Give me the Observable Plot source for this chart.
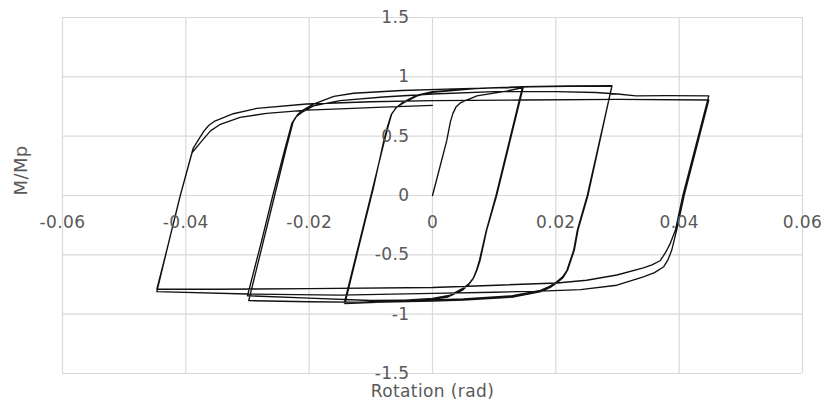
<!DOCTYPE html>
<html>
<head>
<meta charset="utf-8">
<script src="https://cdn.jsdelivr.net/npm/d3@7"></script>
<script src="https://cdn.jsdelivr.net/npm/@observablehq/plot@0.6"></script>
<style>
  html, body { margin: 0; padding: 0; background: #fff; }
  #chart text { letter-spacing: 0.4px; }
</style>
</head>
<body>
<div id="chart"></div>
<script>
// Hysteresis path (rotation in rad, normalised moment M/Mp), in loading order
const rotation = [
  0, 0.0012, 0.0023, 0.0029, 0.0033, 0.0038, 0.0045, 0.0072, 0.012, 0.0147,
  0.0104, 0.0088, 0.0077, 0.0072, 0.0067, 0.0059, 0.005, 0.0029, 0, -0.007, -0.0143,
  -0.0118, -0.0097, -0.0078, -0.0072, -0.0066, -0.0058, -0.0047, -0.0025, 0, 0.007, 0.0146,
  0.0103, 0.0087, 0.0076, 0.0071, 0.0066, 0.0058, 0.0048, 0.0025, 0, -0.007, -0.0142,
  -0.0117, -0.0096, -0.0079, -0.0073, -0.0067, -0.0059, -0.0048, -0.0025, 0, 0.008, 0.0147, 0.022, 0.0291,
  0.0252, 0.0236, 0.0230, 0.0219, 0.0212, 0.0203, 0.0191, 0.0176, 0.0132, 0.005, 0, -0.01, -0.02, -0.0298,
  -0.0274, -0.0256, -0.0238, -0.0226, -0.0219, -0.0210, -0.0193, -0.016, -0.0128, -0.005, 0.005, 0.0158, 0.022, 0.0291,
  0.0251, 0.0235, 0.0229, 0.0218, 0.0211, 0.0202, 0.019, 0.0175, 0.013, 0.005, 0, -0.01, -0.02, -0.03,
  -0.0277, -0.0259, -0.0240, -0.0228, -0.0221, -0.0212, -0.0193, -0.015, -0.008, 0, 0.01, 0.02, 0.0265, 0.03, 0.033, 0.038, 0.0448,
  0.0406, 0.0394, 0.0385, 0.0378, 0.0369, 0.0356, 0.0342, 0.0299, 0.025, 0.0202, 0.0104, 0, -0.02, -0.035, -0.0447,
  -0.0427, -0.0409, -0.0388, -0.0371, -0.0363, -0.0354, -0.0323, -0.0285, -0.0204, -0.01, 0, 0.015, 0.03, 0.0448,
  0.0408, 0.0396, 0.0388, 0.0382, 0.0375, 0.0360, 0.0342, 0.0299, 0.024, 0.0186, 0.01, 0, -0.015, -0.03, -0.0447,
  -0.0428, -0.0410, -0.0390, -0.0374, -0.0360, -0.0344, -0.0312, -0.0269, -0.0204, -0.015, -0.008, 0
];
const moment = [
  0, 0.24, 0.46, 0.62, 0.69, 0.745, 0.78, 0.84, 0.88, 0.91,
  0.0, -0.29, -0.55, -0.63, -0.69, -0.745, -0.78, -0.84, -0.868, -0.89, -0.905,
  -0.38, 0.06, 0.46, 0.58, 0.69, 0.745, 0.78, 0.84, 0.87, 0.90, 0.915,
  0.0, -0.3, -0.55, -0.635, -0.70, -0.755, -0.80, -0.855, -0.875, -0.895, -0.91,
  -0.38, 0.06, 0.46, 0.58, 0.68, 0.74, 0.785, 0.845, 0.875, 0.905, 0.918, 0.924, 0.926,
  0.0, -0.29, -0.46, -0.63, -0.69, -0.73, -0.775, -0.81, -0.855, -0.882, -0.89, -0.90, -0.895, -0.886,
  -0.38, 0.0, 0.38, 0.62, 0.68, 0.72, 0.77, 0.835, 0.862, 0.885, 0.90, 0.915, 0.92, 0.922,
  0.0, -0.29, -0.46, -0.63, -0.685, -0.725, -0.765, -0.80, -0.845, -0.872, -0.88, -0.885, -0.865, -0.845,
  -0.38, 0.0, 0.38, 0.61, 0.665, 0.70, 0.755, 0.80, 0.83, 0.855, 0.875, 0.875, 0.868, 0.855, 0.84, 0.842, 0.84,
  0.0, -0.29, -0.41, -0.48, -0.55, -0.585, -0.61, -0.67, -0.714, -0.737, -0.756, -0.775, -0.785, -0.79, -0.79,
  -0.38, 0.0, 0.40, 0.54, 0.59, 0.624, 0.689, 0.734, 0.771, 0.79, 0.80, 0.805, 0.81, 0.805,
  0.0, -0.29, -0.46, -0.54, -0.60, -0.65, -0.686, -0.756, -0.793, -0.804, -0.815, -0.825, -0.84, -0.83, -0.81,
  -0.40, -0.02, 0.36, 0.46, 0.545, 0.60, 0.658, 0.692, 0.72, 0.73, 0.745, 0.76
];

const xTicks = [-0.06, -0.04, -0.02, 0, 0.02, 0.04, 0.06];
const xTickLabels = ["-0.06", "-0.04", "-0.02", "0", "0.02", "0.04", "0.06"];
const yTicks = [-1.5, -1, -0.5, 0, 0.5, 1, 1.5];
const yTickLabels = ["-1.5", "-1", "-0.5", "0", "0.5", "1", "1.5"];
const xTitle = "Rotation (rad)";
const yTitle = "M/Mp";

const points = rotation.map((r, i) => ({r, m: moment[i]}));
const gridColor = "#d9d9d9";
const textColor = "#595959";

const chart = Plot.plot({
  width: 825,
  height: 405,
  marginLeft: 62,
  marginRight: 23,
  marginTop: 17,
  marginBottom: 32,
  style: {fontFamily: "'DejaVu Sans', sans-serif", fontSize: "17px", background: "#fff", color: textColor},
  x: {domain: [-0.06, 0.06], axis: null},
  y: {domain: [-1.5, 1.5], axis: null},
  marks: [
    Plot.ruleX(xTicks, {stroke: gridColor, strokeWidth: 1.2}),
    Plot.ruleY(yTicks, {stroke: gridColor, strokeWidth: 1.2}),
    Plot.line(points, {x: "r", y: "m", stroke: "#111", strokeWidth: 1.35, curve: "linear"}),
    Plot.text(xTicks, {x: d => d, y: 0, text: (d, i) => xTickLabels[i], dy: 27, fill: textColor, fontSize: 17}),
    Plot.text(yTicks, {x: 0, y: d => d, text: (d, i) => yTickLabels[i], dx: -23, textAnchor: "end", fill: textColor, fontSize: 17}),
    Plot.text([xTitle], {frameAnchor: "bottom", dy: 23.5, text: d => d, fill: textColor, fontSize: 17}),
    Plot.text([yTitle], {frameAnchor: "left", dx: -41, rotate: -90, text: d => d, fill: textColor, fontSize: 18})
  ]
});
document.getElementById("chart").appendChild(chart);
</script>
</body>
</html>
